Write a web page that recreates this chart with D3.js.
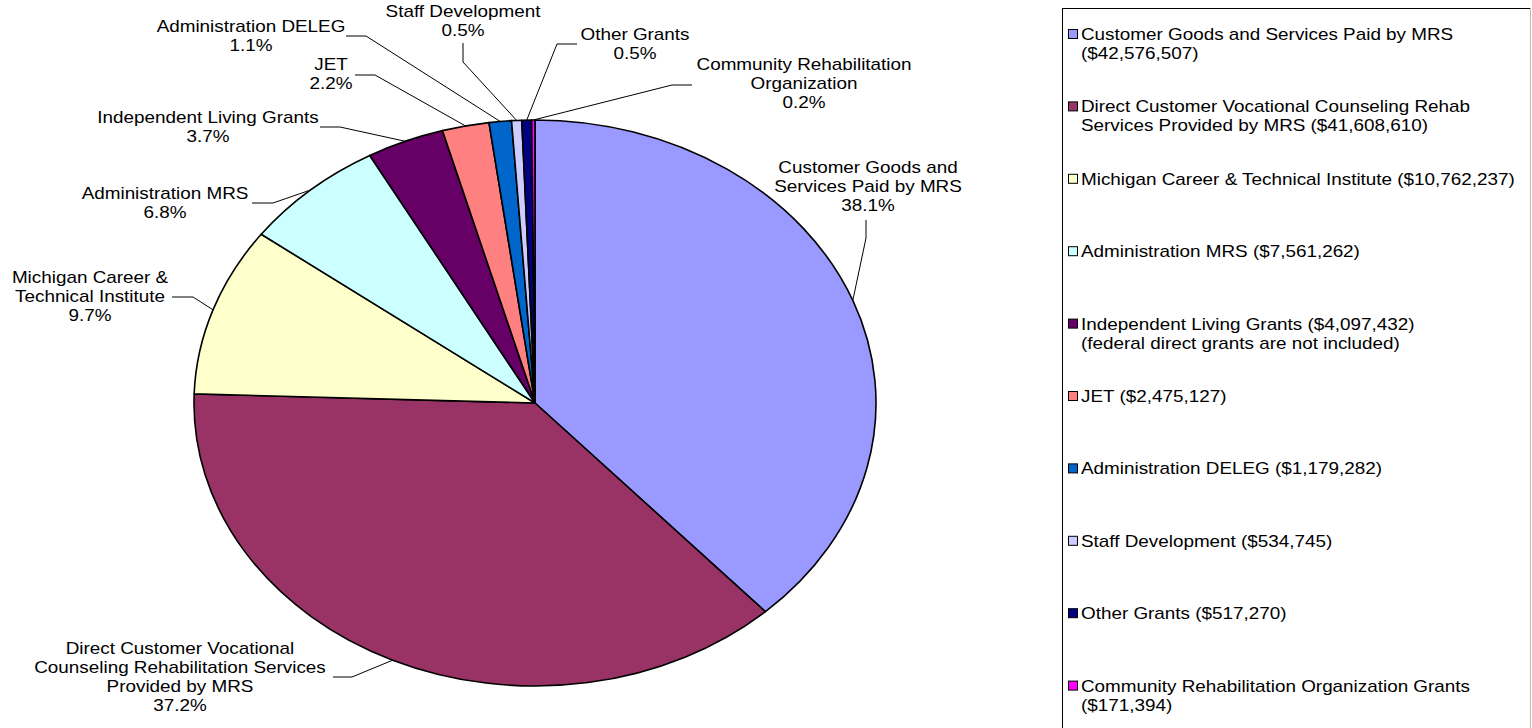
<!DOCTYPE html>
<html>
<head>
<meta charset="utf-8">
<script src="https://cdn.jsdelivr.net/npm/d3@7"></script>
<style>
  html, body { margin: 0; padding: 0; background: #fff; }
  svg { display: block; font-family: "Liberation Sans", Arial, sans-serif; }
</style>
</head>
<body>
<svg id="chart" width="1532" height="728"></svg>
<script>
// ---------- data ----------
const categories = [
  "Customer Goods and Services Paid by MRS",
  "Direct Customer Vocational Counseling Rehab Services Provided by MRS",
  "Michigan Career & Technical Institute",
  "Administration MRS",
  "Independent Living Grants",
  "JET",
  "Administration DELEG",
  "Staff Development",
  "Other Grants",
  "Community Rehabilitation Organization Grants"
];
const values = [42576507, 41608610, 10762237, 7561262, 4097432, 2475127, 1179282, 534745, 517270, 171394];
const percentLabels = ["38.1%", "37.2%", "9.7%", "6.8%", "3.7%", "2.2%", "1.1%", "0.5%", "0.5%", "0.2%"];
const sliceLabelLines = [
  ["Customer Goods and", "Services Paid by MRS"],
  ["Direct Customer Vocational", "Counseling Rehabilitation Services", "Provided by MRS"],
  ["Michigan Career &", "Technical Institute"],
  ["Administration MRS"],
  ["Independent Living Grants"],
  ["JET"],
  ["Administration DELEG"],
  ["Staff Development"],
  ["Other Grants"],
  ["Community Rehabilitation", "Organization"]
];
const legendLines = [
  ["Customer Goods and Services Paid by MRS", "($42,576,507)"],
  ["Direct Customer Vocational Counseling Rehab", "Services Provided by MRS ($41,608,610)"],
  ["Michigan Career & Technical Institute ($10,762,237)"],
  ["Administration MRS ($7,561,262)"],
  ["Independent Living Grants ($4,097,432)", "(federal direct grants are not included)"],
  ["JET ($2,475,127)"],
  ["Administration DELEG ($1,179,282)"],
  ["Staff Development ($534,745)"],
  ["Other Grants ($517,270)"],
  ["Community Rehabilitation Organization Grants", "($171,394)"]
];
const colors = ["#9999FF", "#993366", "#FFFFCC", "#CCFFFF", "#660066", "#FF8080", "#0066CC", "#CCCCFF", "#000080", "#FF00FF"];

// ---------- layout (positions, not data) ----------
const cx = 535, cy = 403, ry = 283, sx = 1.205;   // pie centre, radius, horizontal stretch
const textSx = 1.18, fontSize = 16, lineH = 19;
const labelLayout = [
  { x: 868, y: 173, pts: [[866, 220], [866, 238]] },
  { x: 180, y: 654, pts: [[333, 677], [352, 677]] },
  { x: 90,  y: 283, pts: [[172, 297], [193, 297]] },
  { x: 165, y: 199, pts: [[252, 203], [273, 203]] },
  { x: 208, y: 123, pts: [[320, 127], [340, 127]] },
  { x: 331, y: 70,  pts: [[355, 75], [375, 75]] },
  { x: 251, y: 32,  pts: [[346, 36], [366, 36]] },
  { x: 463, y: 17,  pts: [[463, 43], [463, 62]] },
  { x: 635, y: 40,  pts: [[577, 44], [557, 44]] },
  { x: 804, y: 70,  pts: [[692, 85], [672, 85]] }
];

const svg = d3.select("#chart");

// ---------- pie ----------
const pie = d3.pie().sort(null).value(d => d)(values);
const arc = d3.arc().innerRadius(0).outerRadius(ry);

const pg = svg.append("g").attr("transform", `translate(${cx},${cy}) scale(${sx},1)`);
pg.selectAll("path").data(pie).join("path")
  .attr("d", arc)
  .attr("fill", (d, i) => colors[i])
  .attr("stroke", "#000")
  .attr("stroke-width", 1.6)
  .attr("vector-effect", "non-scaling-stroke")
  .attr("stroke-linejoin", "round");

// ---------- leader lines ----------
const line = d3.line();
pie.forEach((d, i) => {
  const a = (d.startAngle + d.endAngle) / 2;
  const end = [cx + ry * sx * Math.sin(a), cy - ry * Math.cos(a)];
  svg.append("path")
    .attr("d", line([...labelLayout[i].pts, end]))
    .attr("fill", "none")
    .attr("stroke", "#000")
    .attr("stroke-width", 1);
});

// ---------- slice labels ----------
sliceLabelLines.forEach((lines, i) => {
  const L = labelLayout[i];
  const t = svg.append("text")
    .attr("transform", `translate(${L.x},${L.y}) scale(${textSx},1)`)
    .attr("text-anchor", "middle")
    .attr("font-size", fontSize)
    .attr("fill", "#000");
  [...lines, percentLabels[i]].forEach((s, j) => {
    t.append("tspan").attr("x", 0).attr("y", j * lineH).text(s);
  });
});

// ---------- legend ----------
const legX = 1062, legTop = 8, legRight = 1530;
svg.append("line").attr("x1", legX).attr("x2", legRight).attr("y1", legTop + 0.5).attr("y2", legTop + 0.5).attr("stroke", "#000");
svg.append("line").attr("x1", legX + 0.5).attr("x2", legX + 0.5).attr("y1", legTop).attr("y2", 740).attr("stroke", "#000");
svg.append("line").attr("x1", legRight + 0.5).attr("x2", legRight + 0.5).attr("y1", legTop).attr("y2", 740).attr("stroke", "#bbb");

const legStep = 72.4, legFirst = 40, textX = 1081;
const lg = svg.append("g");
legendLines.forEach((lines, i) => {
  const by = legFirst + i * legStep;
  lg.append("rect")
    .attr("x", textX - 12.5).attr("y", by - 10.5)
    .attr("width", 9).attr("height", 9)
    .attr("fill", colors[i]).attr("stroke", "#000").attr("stroke-width", 1);
  const t = lg.append("text")
    .attr("transform", `translate(${textX},${by}) scale(${textSx},1)`)
    .attr("font-size", fontSize)
    .attr("fill", "#000");
  lines.forEach((s, j) => t.append("tspan").attr("x", 0).attr("y", j * lineH).text(s));
});
</script>
</body>
</html>
